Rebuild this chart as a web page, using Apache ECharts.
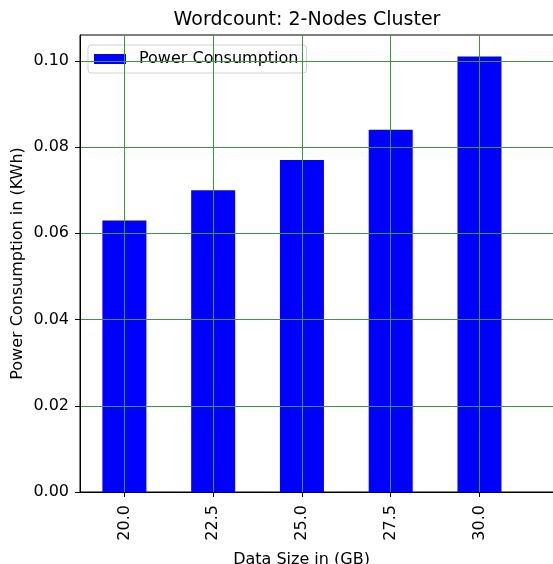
<!DOCTYPE html>
<html>
<head>
<meta charset="utf-8">
<script src="https://cdn.jsdelivr.net/npm/echarts@6/dist/echarts.min.js"></script>
<style>
  html, body { margin: 0; padding: 0; background: #fff; }
</style>
</head>
<body>
<div id="chart" style="width:553px;height:564px"></div>
<script>
// data sizes (GB) and measured power (KWh)
const dataSizes = [20.0, 22.5, 25.0, 27.5, 30.0]
const powerKWh = [0.063, 0.070, 0.077, 0.084, 0.101]
const yTicks = [0, 0.02, 0.04, 0.06, 0.08, 0.10]

const FONT = 'DejaVu Sans'
const gridGreen = '#3a9a3a'

const chart = echarts.init(document.getElementById('chart'))

const option = {
  animation: false,
  textStyle: { fontFamily: FONT },
  title: {
    text: 'Wordcount: 2-Nodes Cluster',
    left: 302,
    top: 6,
    textAlign: 'center',
    textStyle: { fontFamily: FONT, fontSize: 19, fontWeight: 'normal', color: '#000' }
  },
  legend: {
    data: ['Power Consumption'],
    left: 88,
    top: 45,
    orient: 'vertical',
    padding: [6, 8, 6, 6],
    itemWidth: 32,
    itemHeight: 10,
    icon: 'rect',
    backgroundColor: 'rgba(255,255,255,0.85)',
    borderColor: '#d0d0d0',
    borderWidth: 1,
    borderRadius: 3,
    textStyle: { fontFamily: FONT, fontSize: 16, color: '#000', padding: [0, 0, 0, 8] }
  },
  grid: {
    left: 80,
    top: 35,
    width: 506,
    height: 457,
    outerBoundsMode: 'none',
    containLabel: false,
    show: true,
    borderColor: '#000',
    borderWidth: 1
  },
  xAxis: {
    type: 'value',
    min: 18.75,
    max: 33,
    z: 5,
    name: 'Data Size in (GB)',
    nameLocation: 'middle',
    nameGap: 60,
    nameTextStyle: { fontFamily: FONT, fontSize: 16, color: '#000', padding: [0, 63, 0, 0] },
    axisLine: { lineStyle: { color: '#000', width: 1 } },
    axisTick: { customValues: dataSizes, length: 5, lineStyle: { color: '#000' } },
    axisLabel: {
      customValues: dataSizes,
      rotate: 90,
      margin: 13,
      fontFamily: FONT,
      fontSize: 16,
      color: '#000',
      formatter: v => v.toFixed(1)
    },
    splitLine: { show: true, lineStyle: { color: gridGreen, width: 1 } }
  },
  yAxis: {
    type: 'value',
    min: 0,
    max: 0.106,
    z: 5,
    name: 'Power Consumption in (KWh)',
    nameLocation: 'middle',
    nameGap: 54,
    nameMoveOverlap: false,
    nameTextStyle: { fontFamily: FONT, fontSize: 16, color: '#000' },
    axisLine: { show: true, lineStyle: { color: '#000', width: 1 } },
    axisTick: { show: true, customValues: yTicks, length: 5, lineStyle: { color: '#000' } },
    axisLabel: {
      customValues: yTicks,
      margin: 11,
      fontFamily: FONT,
      fontSize: 16,
      color: '#000',
      formatter: v => v.toFixed(2)
    },
    splitLine: { show: true, lineStyle: { color: gridGreen, width: 1 } }
  },
  series: [
    {
      name: 'Power Consumption',
      type: 'bar',
      z: 1,
      barWidth: 44,
      itemStyle: { color: '#0000ff' },
      data: dataSizes.map((s, i) => [s, powerKWh[i]])
    }
  ]
}

chart.setOption(option)
</script>
</body>
</html>
